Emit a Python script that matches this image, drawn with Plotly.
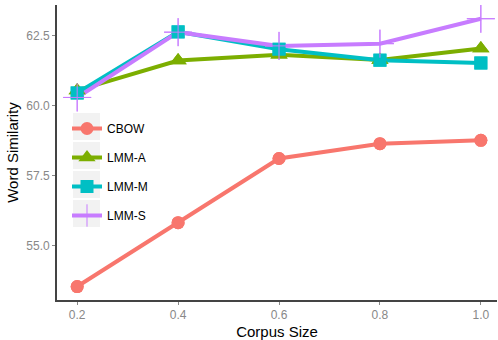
import plotly.graph_objects as go

corpus_size = [0.2, 0.4, 0.6, 0.8, 1.0]
series_names = ["CBOW", "LMM-A", "LMM-M", "LMM-S"]
cbow = [53.55, 55.83, 58.12, 58.65, 58.77]
lmm_a = [60.55, 61.62, 61.82, 61.64, 62.05]
lmm_m = [60.46, 62.64, 62.02, 61.63, 61.53]
lmm_s = [60.30, 62.63, 62.14, 62.22, 63.11]
values = [cbow, lmm_a, lmm_m, lmm_s]
colors = ["#F8766D", "#7CAE00", "#00BFC4", "#C77CFF"]
symbols = ["circle", "triangle-up", "square", "cross-thin"]
sizes = [13, 15, 13, 20]
y_ticks = [55.0, 57.5, 60.0, 62.5]

W, H = 498, 340
ML, MR, MT, MB = 57, 1, 5, 40
PW, PH = W - ML - MR, H - MT - MB

fig = go.Figure()
for name, v, c, s, sz in zip(series_names, values, colors, symbols, sizes):
    mk = dict(color=c, size=sz, symbol=s)
    if s == "cross-thin":
        mk["line"] = dict(color=c, width=1)
    fig.add_trace(go.Scatter(x=corpus_size, y=v, name=name, mode="lines+markers",
                             line=dict(color=c, width=4), marker=mk,
                             legendgroup=name))
for name, v, c, s, sz in zip(series_names, values, colors, symbols, sizes):
    mk = dict(color=c, size=sz, symbol=s)
    if s == "cross-thin":
        mk["line"] = dict(color=c, width=1)
    fig.add_trace(go.Scatter(x=corpus_size, y=v, mode="markers", marker=mk,
                             showlegend=False, hoverinfo="skip"))

# grey legend key backgrounds (ggplot style)
shapes = []
for i in range(4):
    x0, x1 = 73, 100
    y0 = 113 + 29 * i
    y1 = y0 + 27
    shapes.append(dict(type="rect", xref="paper", yref="paper",
                       x0=(x0 - ML) / PW, x1=(x1 - ML) / PW,
                       y0=(H - MB - y1) / PH, y1=(H - MB - y0) / PH,
                       fillcolor="#F2F2F2", line=dict(width=0), layer="below"))

axis_common = dict(showgrid=False, zeroline=False, showline=True,
                   linecolor="#444444", linewidth=1.8, ticks="outside",
                   ticklen=3, tickcolor="#888888", tickwidth=1,
                   tickfont=dict(color="#888888", size=12))
fig.update_layout(
    width=W, height=H,
    margin=dict(l=ML, r=MR, t=MT, b=MB),
    plot_bgcolor="white", paper_bgcolor="white",
    font=dict(family="Liberation Sans, Arial, sans-serif", color="black"),
    showlegend=True,
    legend=dict(x=(67 - ML) / PW, y=(H - MB - 114) / PH, xanchor="left", yanchor="top",
                bgcolor="rgba(0,0,0,0)", font=dict(size=12, color="black"),
                tracegroupgap=10, itemsizing="trace", itemwidth=30),
    shapes=shapes,
    xaxis=dict(range=[0.16, 1.032], tickvals=corpus_size,
               ticktext=[f"{v:.1f}" for v in corpus_size],
               title=dict(text="Corpus Size", font=dict(size=15), standoff=5),
               automargin=False, **axis_common),
    yaxis=dict(range=[53.07, 63.6], tickvals=y_ticks,
               ticktext=[f"{v:.1f}" for v in y_ticks],
               title=dict(text="Word Similarity", font=dict(size=15), standoff=4),
               automargin=False, **axis_common),
)
fig.write_html("out.html", config={"displayModeBar": False},
               post_script="document.body.style.margin='0';")
